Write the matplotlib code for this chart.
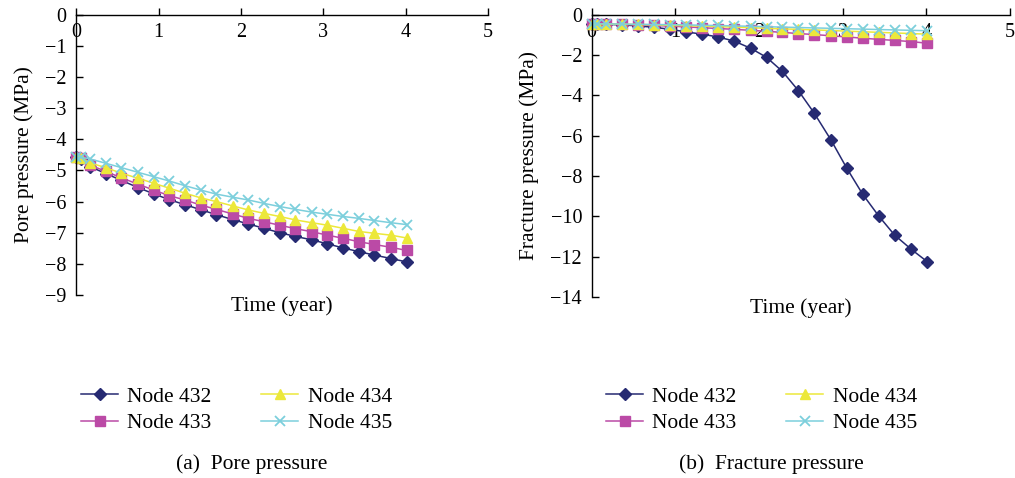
import matplotlib
matplotlib.use("Agg")
import matplotlib.pyplot as plt

plt.rcParams["font.family"] = ["Liberation Serif", "DejaVu Serif"]

# time steps (years)
years = [0, 0.06, 0.17, 0.36, 0.55, 0.75, 0.94, 1.13, 1.32, 1.51, 1.70, 1.90,
         2.09, 2.28, 2.47, 2.66, 2.86, 3.05, 3.24, 3.43, 3.62, 3.82, 4.01]

# pore pressure (MPa)
pore_432 = [-4.57, -4.62, -4.88, -5.10, -5.32, -5.55, -5.75, -5.94, -6.10, -6.26, -6.42, -6.58,
            -6.72, -6.86, -7.00, -7.12, -7.23, -7.36, -7.49, -7.61, -7.72, -7.83, -7.94]
pore_433 = [-4.57, -4.61, -4.83, -5.03, -5.24, -5.44, -5.63, -5.81, -5.95, -6.11, -6.25, -6.40,
            -6.54, -6.65, -6.76, -6.87, -6.97, -7.08, -7.18, -7.29, -7.38, -7.47, -7.57]
pore_434 = [-4.57, -4.60, -4.76, -4.91, -5.09, -5.25, -5.41, -5.57, -5.73, -5.88, -6.00, -6.14,
            -6.27, -6.38, -6.48, -6.59, -6.68, -6.76, -6.86, -6.96, -7.02, -7.08, -7.17]
pore_435 = [-4.57, -4.58, -4.63, -4.77, -4.91, -5.06, -5.20, -5.34, -5.49, -5.63, -5.76, -5.86,
            -5.95, -6.06, -6.16, -6.25, -6.34, -6.41, -6.48, -6.54, -6.61, -6.68, -6.74]

# fracture pressure (MPa)
frac_432 = [-0.45, -0.45, -0.47, -0.50, -0.55, -0.62, -0.72, -0.85, -0.96, -1.10, -1.30, -1.66,
            -2.11, -2.81, -3.76, -4.88, -6.21, -7.62, -8.91, -9.98, -10.93, -11.64, -12.25]
frac_433 = [-0.45, -0.45, -0.47, -0.48, -0.50, -0.53, -0.56, -0.60, -0.64, -0.68, -0.72, -0.77,
            -0.82, -0.87, -0.93, -0.98, -1.04, -1.10, -1.16, -1.22, -1.27, -1.33, -1.41]
frac_434 = [-0.45, -0.45, -0.46, -0.47, -0.48, -0.50, -0.52, -0.54, -0.56, -0.59, -0.61, -0.64,
            -0.67, -0.70, -0.72, -0.75, -0.78, -0.81, -0.84, -0.87, -0.90, -0.93, -0.96]
frac_435 = [-0.45, -0.45, -0.45, -0.46, -0.47, -0.48, -0.49, -0.50, -0.52, -0.53, -0.55, -0.57,
            -0.59, -0.61, -0.63, -0.65, -0.67, -0.69, -0.71, -0.73, -0.75, -0.77, -0.79]

node_names = ["Node 432", "Node 433", "Node 434", "Node 435"]
styles = [
    dict(color="#262a72", marker="D", markersize=6),
    dict(color="#bb4aa6", marker="s", markersize=6.5),
    dict(color="#ece83a", marker="^", markersize=7.5),
    dict(color="#7ccfdc", marker="x", markersize=7.5, markeredgewidth=1.3),
]

FS = 15.5


def draw_panel(ax, series, ylim, yticks, ylabel):
    lines = []
    for vals, name, st in zip(series, node_names, styles):
        ln, = ax.plot(years, vals, lw=1.1, label=name, clip_on=False, **st)
        lines.append(ln)
    ax.set_xlim(0, 5)
    ax.set_ylim(*ylim)
    ax.set_xticks(range(0, 6))
    ax.set_yticks(yticks)
    ax.spines["top"].set_visible(False)
    ax.spines["right"].set_visible(False)
    ax.spines["bottom"].set_position(("data", 0))
    for s in ("left", "bottom"):
        ax.spines[s].set_linewidth(1.0)
    ax.tick_params(direction="in", length=5, width=1.0, labelsize=14.5)
    ax.tick_params(axis="y", pad=7)
    ax.tick_params(axis="x", pad=6)
    ax.set_ylabel(ylabel, fontsize=FS, labelpad=8)
    ax.set_xlabel("Time (year)", fontsize=FS)
    ax.xaxis.set_label_coords(0.5, -0.005)
    return lines


fig = plt.figure(figsize=(10.15, 4.78), dpi=100)
ax1 = fig.add_axes([0.075, 0.383, 0.406, 0.586])
ax2 = fig.add_axes([0.583, 0.379, 0.412, 0.590])

h1 = draw_panel(ax1, [pore_432, pore_433, pore_434, pore_435], (-9, 0),
                range(-9, 1), "Pore pressure (MPa)")
h2 = draw_panel(ax2, [frac_432, frac_433, frac_434, frac_435], (-14, 0),
                range(-14, 1, 2), "Fracture pressure (MPa)")

leg_kw = dict(ncol=2, frameon=False, fontsize=FS, handlelength=1.7,
              columnspacing=2.3, handletextpad=0.45, labelspacing=0.28,
              borderpad=0, borderaxespad=0, loc="center")
fig.legend(handles=h1, bbox_to_anchor=(236.5 / 1015, 1 - 410 / 478), **leg_kw)
fig.legend(handles=h2, bbox_to_anchor=(761.5 / 1015, 1 - 410 / 478), **leg_kw)

fig.text(252 / 1015, 1 - 464 / 478, "(a)  Pore pressure", ha="center", va="center", fontsize=FS)
fig.text(771 / 1015, 1 - 464 / 478, "(b)  Fracture pressure", ha="center", va="center", fontsize=FS)

fig.savefig("out.png", dpi=100)
